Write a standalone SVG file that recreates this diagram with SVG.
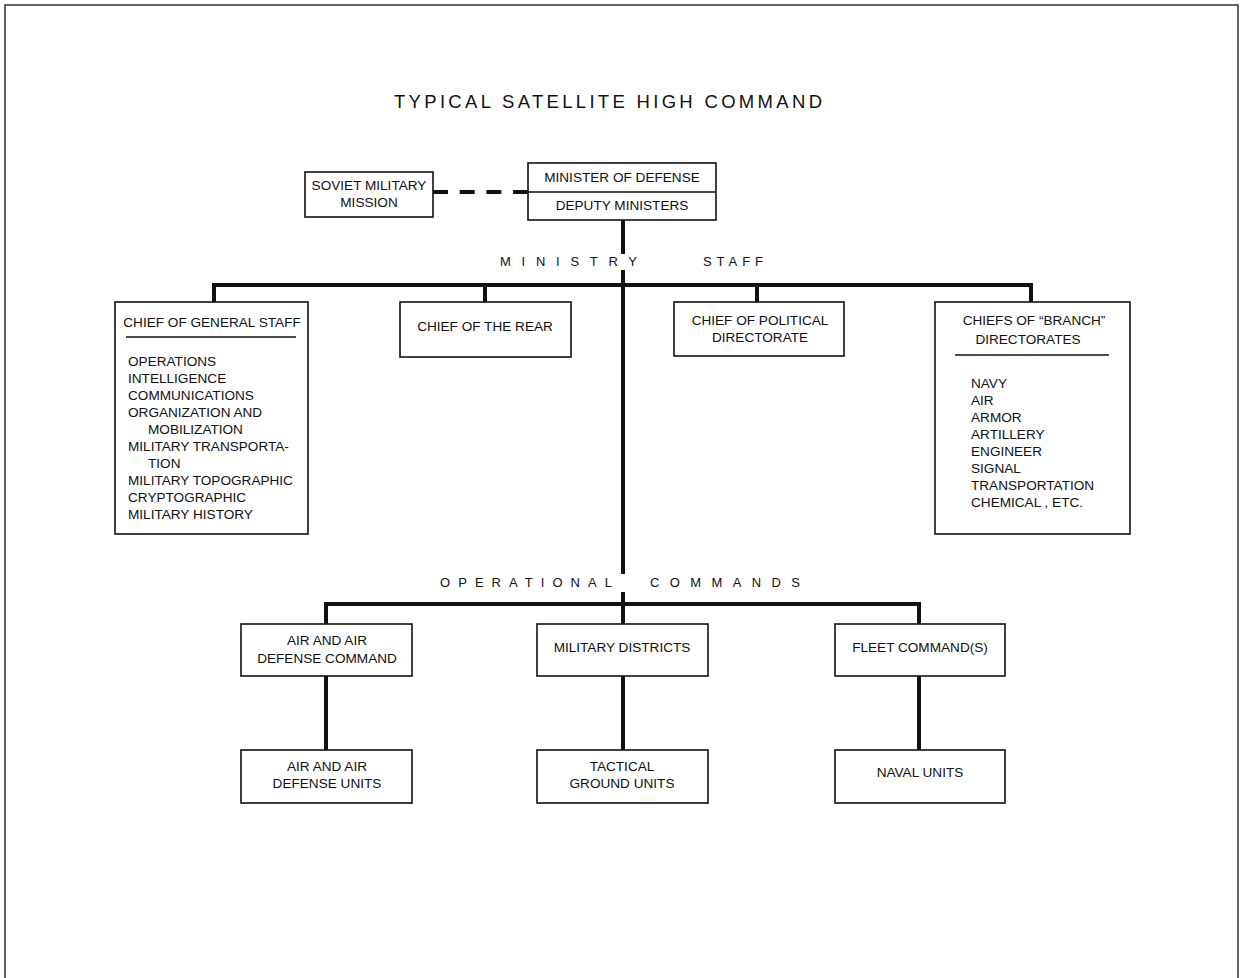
<svg xmlns="http://www.w3.org/2000/svg" width="1240" height="978" viewBox="0 0 1240 978">
<style>
text{font-family:"Liberation Sans",Arial,sans-serif;font-size:13.6px;fill:#111;}
.c{text-anchor:middle;}
.box{fill:#fff;stroke:#111;stroke-width:1.6;}
.conn{stroke:#111;stroke-width:4;fill:none;}
.thin{stroke:#111;stroke-width:1.3;}
.title{font-size:18.5px;}
.lbl{font-size:13px;}
</style>
<rect width="1240" height="978" fill="#fff"/>
<path d="M5,978 V5 H1238 V978" fill="none" stroke="#333" stroke-width="1.5"/>
<text class="title" x="394" y="108" textLength="428" lengthAdjust="spacing">TYPICAL SATELLITE HIGH COMMAND</text>

<g id="connectors">
<line class="conn" x1="433" y1="192" x2="528" y2="192" stroke-dasharray="15 11.7"/>
<line class="conn" x1="623" y1="220" x2="623" y2="254"/>
<line class="conn" x1="623" y1="270" x2="623" y2="574"/>
<line class="conn" x1="623" y1="592" x2="623" y2="624"/>
<polyline class="conn" points="214,302 214,285 1031,285 1031,302"/>
<line class="conn" x1="485" y1="285" x2="485" y2="302"/>
<line class="conn" x1="757" y1="285" x2="757" y2="302"/>
<polyline class="conn" points="326,624 326,604 919,604 919,624"/>
<line class="conn" x1="326" y1="676" x2="326" y2="750"/>
<line class="conn" x1="623" y1="676" x2="623" y2="750"/>
<line class="conn" x1="919" y1="676" x2="919" y2="750"/>
</g>

<text class="lbl" x="500" y="266" textLength="137" lengthAdjust="spacing">MINISTRY</text>
<text class="lbl" x="703" y="266" textLength="60" lengthAdjust="spacing">STAFF</text>
<text class="lbl" x="440" y="587" textLength="172" lengthAdjust="spacing">OPERATIONAL</text>
<text class="lbl" x="650" y="587" textLength="150" lengthAdjust="spacing">COMMANDS</text>

<g id="minister">
<rect class="box" x="528" y="163" width="188" height="57"/>
<line class="thin" x1="528" y1="192" x2="716" y2="192"/>
<text class="c" x="622" y="182">MINISTER OF DEFENSE</text>
<text class="c" x="622" y="210">DEPUTY MINISTERS</text>
</g>

<g id="soviet">
<rect class="box" x="305" y="172" width="128" height="45"/>
<text class="c" x="369" y="190">SOVIET MILITARY</text>
<text class="c" x="369" y="207">MISSION</text>
</g>

<g id="general-staff">
<rect class="box" x="115" y="302" width="193" height="232"/>
<text class="c" x="212" y="327">CHIEF OF GENERAL STAFF</text>
<line class="thin" x1="126" y1="337" x2="296" y2="337"/>
<text x="128" y="366">OPERATIONS</text>
<text x="128" y="383">INTELLIGENCE</text>
<text x="128" y="400">COMMUNICATIONS</text>
<text x="128" y="417">ORGANIZATION AND</text>
<text x="148" y="434">MOBILIZATION</text>
<text x="128" y="451">MILITARY TRANSPORTA-</text>
<text x="148" y="468">TION</text>
<text x="128" y="485">MILITARY TOPOGRAPHIC</text>
<text x="128" y="502">CRYPTOGRAPHIC</text>
<text x="128" y="519">MILITARY HISTORY</text>
</g>

<g id="rear">
<rect class="box" x="400" y="302" width="171" height="55"/>
<text class="c" x="485" y="331">CHIEF OF THE REAR</text>
</g>

<g id="political">
<rect class="box" x="674" y="302" width="170" height="54"/>
<text class="c" x="760" y="325">CHIEF OF POLITICAL</text>
<text class="c" x="760" y="342">DIRECTORATE</text>
</g>

<g id="branch">
<rect class="box" x="935" y="302" width="195" height="232"/>
<text class="c" x="1034" y="325">CHIEFS OF “BRANCH”</text>
<text class="c" x="1028" y="344">DIRECTORATES</text>
<line class="thin" x1="955" y1="355" x2="1109" y2="355"/>
<text x="971" y="388">NAVY</text>
<text x="971" y="405">AIR</text>
<text x="971" y="422">ARMOR</text>
<text x="971" y="439">ARTILLERY</text>
<text x="971" y="456">ENGINEER</text>
<text x="971" y="473">SIGNAL</text>
<text x="971" y="490">TRANSPORTATION</text>
<text x="971" y="507">CHEMICAL , ETC.</text>
</g>

<g id="air-command">
<rect class="box" x="241" y="624" width="171" height="52"/>
<text class="c" x="327" y="645">AIR AND AIR</text>
<text class="c" x="327" y="663">DEFENSE COMMAND</text>
</g>
<g id="military-districts">
<rect class="box" x="537" y="624" width="171" height="52"/>
<text class="c" x="622" y="652">MILITARY DISTRICTS</text>
</g>
<g id="fleet-command">
<rect class="box" x="835" y="624" width="170" height="52"/>
<text class="c" x="920" y="652">FLEET COMMAND(S)</text>
</g>
<g id="air-units">
<rect class="box" x="241" y="750" width="171" height="53"/>
<text class="c" x="327" y="771">AIR AND AIR</text>
<text class="c" x="327" y="788">DEFENSE UNITS</text>
</g>
<g id="ground-units">
<rect class="box" x="537" y="750" width="171" height="53"/>
<text class="c" x="622" y="771">TACTICAL</text>
<text class="c" x="622" y="788">GROUND UNITS</text>
</g>
<g id="naval-units">
<rect class="box" x="835" y="750" width="170" height="53"/>
<text class="c" x="920" y="777">NAVAL UNITS</text>
</g>
</svg>
